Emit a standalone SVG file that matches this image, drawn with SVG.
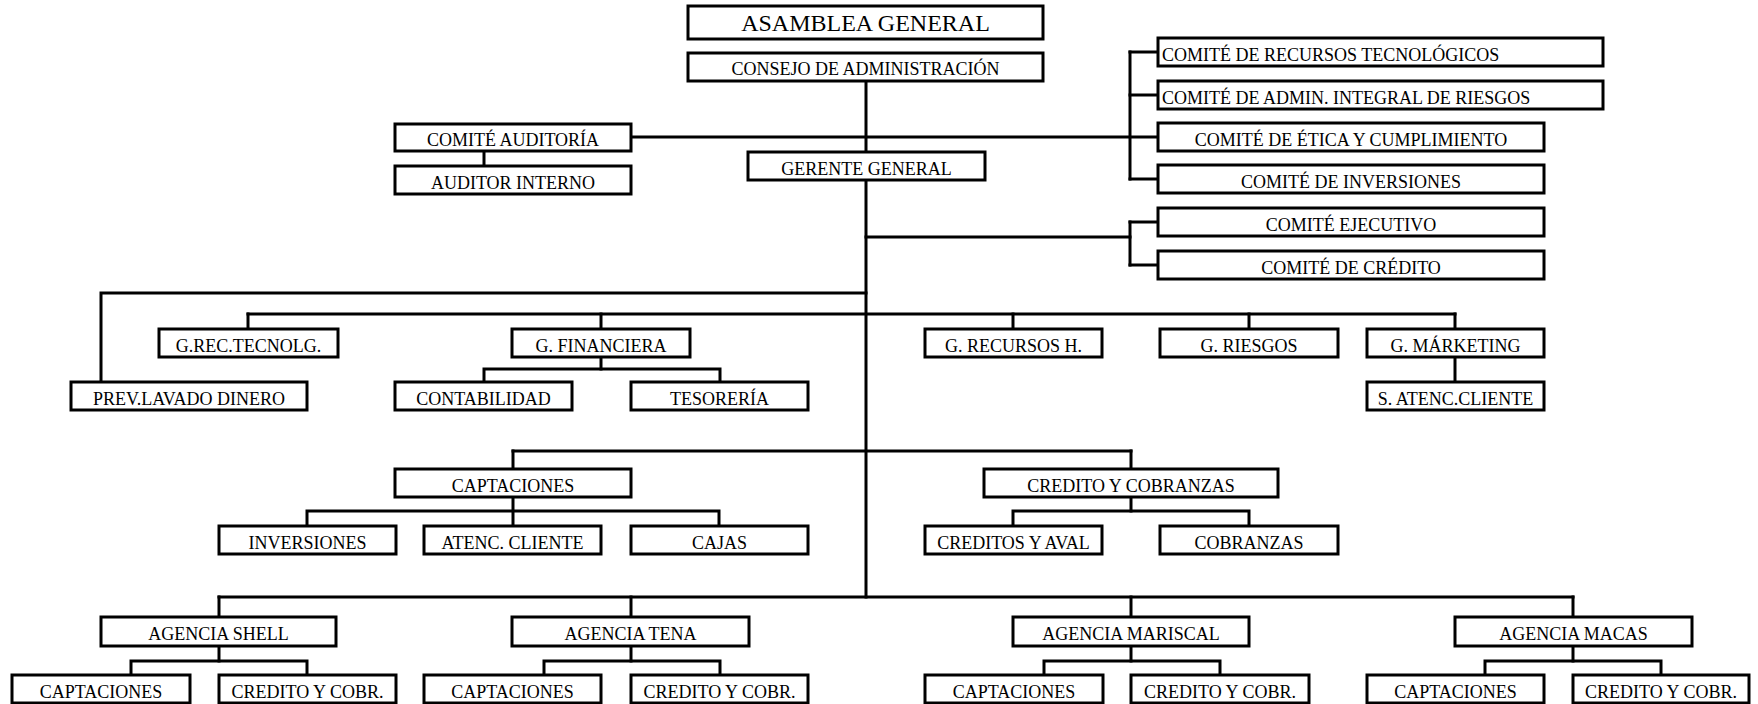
<svg xmlns="http://www.w3.org/2000/svg" width="1758" height="704" viewBox="0 0 1758 704">
  <style>
    .box { fill: #fff; stroke: #000; stroke-width: 3; }
    .lbl { font-family: "Liberation Serif", "Times New Roman", serif; font-size: 18px; fill: #000; text-anchor: middle; }
    .left { text-anchor: start; }
    .big { font-size: 24px; }
    .conn line, .conn polyline { stroke: #000; stroke-width: 3; fill: none; stroke-linecap: square; }
  </style>
  <rect width="1758" height="704" fill="#fff"/>

  <!-- connectors -->
  <g id="connectors" class="conn">
    <!-- main trunk -->
    <line x1="866" y1="81" x2="866" y2="597"/>
    <!-- audit committee / board committees -->
    <line x1="631" y1="137" x2="1158" y2="137"/>
    <line x1="484" y1="151" x2="484" y2="166"/>
    <line x1="1130" y1="52" x2="1130" y2="179"/>
    <line x1="1130" y1="52" x2="1158" y2="52"/>
    <line x1="1130" y1="95" x2="1158" y2="95"/>
    <line x1="1130" y1="179" x2="1158" y2="179"/>
    <!-- executive / credit committees -->
    <line x1="866" y1="237" x2="1130" y2="237"/>
    <line x1="1130" y1="222" x2="1130" y2="265"/>
    <line x1="1130" y1="222" x2="1158" y2="222"/>
    <line x1="1130" y1="265" x2="1158" y2="265"/>
    <!-- money laundering prevention -->
    <polyline points="866,293 101,293 101,382"/>
    <!-- management row -->
    <line x1="248" y1="314" x2="1455" y2="314"/>
    <line x1="248" y1="314" x2="248" y2="329"/>
    <line x1="601" y1="314" x2="601" y2="329"/>
    <line x1="1013" y1="314" x2="1013" y2="329"/>
    <line x1="1249" y1="314" x2="1249" y2="329"/>
    <line x1="1455" y1="314" x2="1455" y2="329"/>
    <line x1="601" y1="357" x2="601" y2="369"/>
    <polyline points="484,382 484,369 720,369 720,382"/>
    <line x1="1455" y1="357" x2="1455" y2="382"/>
    <!-- operations -->
    <line x1="513" y1="451" x2="1131" y2="451"/>
    <line x1="513" y1="451" x2="513" y2="469"/>
    <line x1="1131" y1="451" x2="1131" y2="469"/>
    <line x1="513" y1="497" x2="513" y2="526"/>
    <polyline points="307,526 307,511 719,511 719,526"/>
    <line x1="1131" y1="497" x2="1131" y2="511"/>
    <polyline points="1013,526 1013,511 1249,511 1249,526"/>
    <!-- branches -->
    <line x1="219" y1="597" x2="1573" y2="597"/>
    <line x1="219" y1="597" x2="219" y2="617"/>
    <line x1="631" y1="597" x2="631" y2="617"/>
    <line x1="1131" y1="597" x2="1131" y2="617"/>
    <line x1="1573" y1="597" x2="1573" y2="617"/>
    <line x1="219" y1="646" x2="219" y2="661"/>
    <polyline points="131,675 131,661 307,661 307,675"/>
    <line x1="631" y1="646" x2="631" y2="661"/>
    <polyline points="544,675 544,661 720,661 720,675"/>
    <line x1="1131" y1="646" x2="1131" y2="661"/>
    <polyline points="1044,675 1044,661 1220,661 1220,675"/>
    <line x1="1573" y1="646" x2="1573" y2="661"/>
    <polyline points="1485,675 1485,661 1661,661 1661,675"/>
  </g>

  <!-- governance -->
  <g id="asamblea"><rect class="box" x="688" y="6" width="355" height="33"/><text class="lbl big" x="865.5" y="31">ASAMBLEA GENERAL</text></g>
  <g id="consejo"><rect class="box" x="688" y="53" width="355" height="28"/><text class="lbl" x="865.5" y="75">CONSEJO DE ADMINISTRACIÓN</text></g>
  <g id="comite-auditoria"><rect class="box" x="395" y="124" width="236" height="27"/><text class="lbl" x="513" y="146">COMITÉ AUDITORÍA</text></g>
  <g id="auditor-interno"><rect class="box" x="395" y="166" width="236" height="28"/><text class="lbl" x="513" y="189">AUDITOR INTERNO</text></g>
  <g id="gerente"><rect class="box" x="748" y="152" width="237" height="28"/><text class="lbl" x="866.5" y="175">GERENTE GENERAL</text></g>

  <!-- committees -->
  <g id="comite-tecnologicos"><rect class="box" x="1158" y="38" width="445" height="28"/><text class="lbl left" x="1162" y="61">COMITÉ DE RECURSOS TECNOLÓGICOS</text></g>
  <g id="comite-riesgos"><rect class="box" x="1158" y="81" width="445" height="28"/><text class="lbl left" x="1162" y="104">COMITÉ DE ADMIN. INTEGRAL DE RIESGOS</text></g>
  <g id="comite-etica"><rect class="box" x="1158" y="123" width="386" height="28"/><text class="lbl" x="1351" y="146">COMITÉ DE ÉTICA Y CUMPLIMIENTO</text></g>
  <g id="comite-inversiones"><rect class="box" x="1158" y="165" width="386" height="28"/><text class="lbl" x="1351" y="188">COMITÉ DE INVERSIONES</text></g>
  <g id="comite-ejecutivo"><rect class="box" x="1158" y="208" width="386" height="28"/><text class="lbl" x="1351" y="231">COMITÉ EJECUTIVO</text></g>
  <g id="comite-credito"><rect class="box" x="1158" y="251" width="386" height="28"/><text class="lbl" x="1351" y="274">COMITÉ DE CRÉDITO</text></g>

  <!-- management -->
  <g id="prev-lavado"><rect class="box" x="71" y="382" width="236" height="28"/><text class="lbl" x="189" y="405">PREV.LAVADO DINERO</text></g>
  <g id="g-rec-tecnolg"><rect class="box" x="159" y="329" width="179" height="28"/><text class="lbl" x="248.5" y="352">G.REC.TECNOLG.</text></g>
  <g id="g-financiera"><rect class="box" x="512" y="329" width="178" height="28"/><text class="lbl" x="601" y="352">G. FINANCIERA</text></g>
  <g id="contabilidad"><rect class="box" x="395" y="382" width="177" height="28"/><text class="lbl" x="483.5" y="405">CONTABILIDAD</text></g>
  <g id="tesoreria"><rect class="box" x="631" y="382" width="177" height="28"/><text class="lbl" x="719.5" y="405">TESORERÍA</text></g>
  <g id="g-recursos-h"><rect class="box" x="925" y="329" width="177" height="28"/><text class="lbl" x="1013.5" y="352">G. RECURSOS H.</text></g>
  <g id="g-riesgos"><rect class="box" x="1160" y="329" width="178" height="28"/><text class="lbl" x="1249" y="352">G. RIESGOS</text></g>
  <g id="g-marketing"><rect class="box" x="1367" y="329" width="177" height="28"/><text class="lbl" x="1455.5" y="352">G. MÁRKETING</text></g>
  <g id="s-atenc-cliente"><rect class="box" x="1367" y="382" width="177" height="28"/><text class="lbl" x="1455.5" y="405">S. ATENC.CLIENTE</text></g>

  <!-- operations -->
  <g id="captaciones"><rect class="box" x="395" y="469" width="236" height="28"/><text class="lbl" x="513" y="492">CAPTACIONES</text></g>
  <g id="inversiones"><rect class="box" x="219" y="526" width="177" height="28"/><text class="lbl" x="307.5" y="549">INVERSIONES</text></g>
  <g id="atenc-cliente"><rect class="box" x="424" y="526" width="177" height="28"/><text class="lbl" x="512.5" y="549">ATENC. CLIENTE</text></g>
  <g id="cajas"><rect class="box" x="631" y="526" width="177" height="28"/><text class="lbl" x="719.5" y="549">CAJAS</text></g>
  <g id="credito-cobranzas"><rect class="box" x="984" y="469" width="294" height="28"/><text class="lbl" x="1131" y="492">CREDITO Y COBRANZAS</text></g>
  <g id="creditos-aval"><rect class="box" x="925" y="526" width="177" height="28"/><text class="lbl" x="1013.5" y="549">CREDITOS Y AVAL</text></g>
  <g id="cobranzas"><rect class="box" x="1160" y="526" width="178" height="28"/><text class="lbl" x="1249" y="549">COBRANZAS</text></g>

  <!-- branches -->
  <g id="agencia-shell"><rect class="box" x="101" y="617" width="235" height="29"/><text class="lbl" x="218.5" y="640">AGENCIA SHELL</text></g>
  <g id="shell-captaciones"><rect class="box" x="12" y="675" width="178" height="28"/><text class="lbl" x="101" y="698">CAPTACIONES</text></g>
  <g id="shell-credito"><rect class="box" x="219" y="675" width="177" height="28"/><text class="lbl" x="307.5" y="698">CREDITO Y COBR.</text></g>
  <g id="agencia-tena"><rect class="box" x="512" y="617" width="237" height="29"/><text class="lbl" x="630.5" y="640">AGENCIA TENA</text></g>
  <g id="tena-captaciones"><rect class="box" x="424" y="675" width="177" height="28"/><text class="lbl" x="512.5" y="698">CAPTACIONES</text></g>
  <g id="tena-credito"><rect class="box" x="631" y="675" width="177" height="28"/><text class="lbl" x="719.5" y="698">CREDITO Y COBR.</text></g>
  <g id="agencia-mariscal"><rect class="box" x="1013" y="617" width="236" height="29"/><text class="lbl" x="1131" y="640">AGENCIA MARISCAL</text></g>
  <g id="mariscal-captaciones"><rect class="box" x="925" y="675" width="178" height="28"/><text class="lbl" x="1014" y="698">CAPTACIONES</text></g>
  <g id="mariscal-credito"><rect class="box" x="1131" y="675" width="178" height="28"/><text class="lbl" x="1220" y="698">CREDITO Y COBR.</text></g>
  <g id="agencia-macas"><rect class="box" x="1455" y="617" width="237" height="29"/><text class="lbl" x="1573.5" y="640">AGENCIA MACAS</text></g>
  <g id="macas-captaciones"><rect class="box" x="1367" y="675" width="177" height="28"/><text class="lbl" x="1455.5" y="698">CAPTACIONES</text></g>
  <g id="macas-credito"><rect class="box" x="1573" y="675" width="176" height="28"/><text class="lbl" x="1661" y="698">CREDITO Y COBR.</text></g>
</svg>
